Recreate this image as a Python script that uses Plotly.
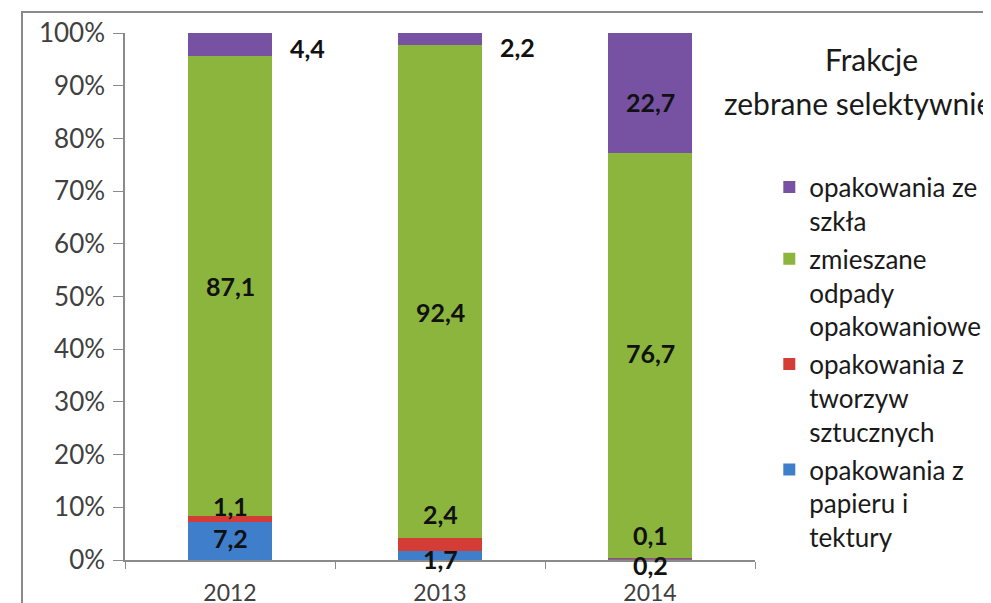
import plotly.graph_objects as go

years = ["2012", "2013", "2014"]
paper = [7.2, 1.7, 0.2]
plastic = [1.1, 2.4, 0.1]
mixed = [87.1, 92.4, 76.7]
glass = [4.4, 2.2, 22.7]

names = [
    "opakowania z<br>papieru i<br>tektury",
    "opakowania z<br>tworzyw<br>sztucznych",
    "zmieszane<br>odpady<br>opakowaniowe",
    "opakowania ze<br>szkła",
]
colors = ["#3E7ECB", "#D43D36", "#8BB53D", "#7752A3"]
legend_title = ["Frakcje", "zebrane selektywnie"]

series = [paper, plastic, mixed, glass]

FONT = "Lato"

fig = go.Figure()
n = len(series)
for i, (vals, name, col) in enumerate(zip(series, names, colors)):
    fig.add_trace(go.Bar(
        x=years, y=vals, name=name, marker=dict(color=col, line=dict(width=0)),
        legendgroup=f"g{i}", legendrank=n - i, width=0.4, hoverinfo="skip",
    ))

# label offsets (pixels) per series per year
label_dy = [
    [3, -4, -6],     # paper
    [13, 31, 24],    # plastic
    [0, -21, 3],     # mixed
    [-3, -8, -9],    # glass
]
label_outside = [[False] * 3, [False] * 3, [False] * 3, [True, True, False]]

annotations = []
totals = [sum(s[j] for s in series) for j in range(len(years))]
for j, yr in enumerate(years):
    cum = 0.0
    for i, vals in enumerate(series):
        pct = vals[j] / totals[j] * 100
        center = cum + pct / 2
        cum += pct
        txt = f"{vals[j]:.1f}".replace(".", ",")
        ann = dict(
            x=j, y=center, xref="x", yref="y", text=txt, showarrow=False,
            yshift=label_dy[i][j],
            font=dict(family=FONT, size=25, color="#111111", weight="bold"),
        )
        if label_outside[i][j]:
            ann.update(xanchor="left", xshift=58)
        annotations.append(ann)

annotations.append(dict(
    x=1.185, y=0.95, xref="paper", yref="paper", text=legend_title[0],
    showarrow=False, xanchor="center", yanchor="middle",
    font=dict(family=FONT, size=30, color="#1a1a1a"),
))
annotations.append(dict(
    x=(722 - 125) / 630, y=0.868, xref="paper", yref="paper", text=legend_title[1],
    showarrow=False, xanchor="left", yanchor="middle",
    font=dict(family=FONT, size=30, color="#1a1a1a"),
))

fig.update_layout(
    width=991, height=603,
    margin=dict(l=117, r=244, t=25, b=51, autoexpand=False),
    paper_bgcolor="white", plot_bgcolor="white",
    barmode="stack", barnorm="percent",
    font=dict(family=FONT, size=20, color="#404040"),
    showlegend=True,
    legend=dict(
        x=1.0227, y=0.752, xanchor="left", yanchor="top",
        traceorder="grouped", tracegroupgap=1, valign="top",
        font=dict(family=FONT, size=26, color="#1a1a1a"),
        bgcolor="rgba(0,0,0,0)", itemwidth=30,
    ),
    annotations=annotations,
    shapes=[dict(
        type="rect", xref="paper", yref="paper",
        x0=-0.1635, x1=2.0, y0=-0.3, y1=1.04,
        line=dict(color="#8a8a8a", width=2), fillcolor="rgba(0,0,0,0)",
        layer="below",
    )],
)
fig.update_xaxes(
    type="category", range=[-0.5, len(years) - 0.5], automargin=False,
    showline=True, linecolor="#8a8a8a", linewidth=1.5,
    ticks="outside", tickson="boundaries", ticklen=7, tickcolor="#8a8a8a",
    ticklabelstandoff=12,
    showgrid=False, tickfont=dict(family=FONT, size=23, color="#404040"),
)
fig.update_yaxes(
    range=[0, 100], dtick=10, ticksuffix="%", automargin=False,
    showline=True, linecolor="#8a8a8a", linewidth=1.5,
    ticks="outside", ticklen=10, tickcolor="#8a8a8a", ticklabelstandoff=3,
    showgrid=False, zeroline=False,
    tickfont=dict(family=FONT, size=26, color="#404040"),
)

fig.write_html("out.html")
